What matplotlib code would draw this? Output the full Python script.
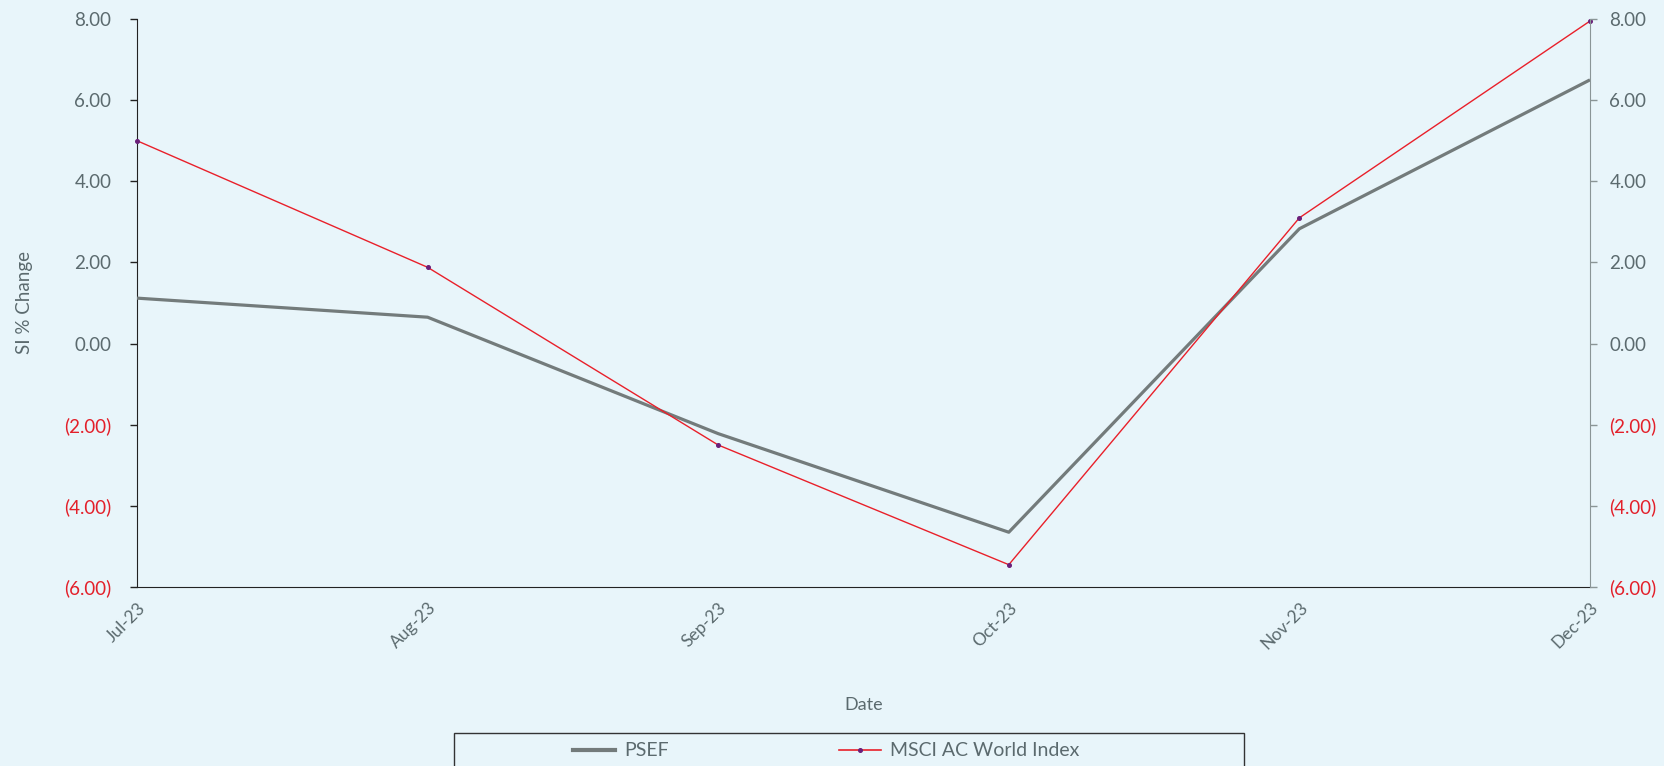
import matplotlib
matplotlib.use("Agg")
import matplotlib.pyplot as plt
from matplotlib.ticker import FuncFormatter, FixedLocator
from matplotlib.patches import Rectangle
from matplotlib.lines import Line2D

plt.rcParams['font.family'] = ['Lato', 'DejaVu Sans']

months = ["Jul-23", "Aug-23", "Sep-23", "Oct-23", "Nov-23", "Dec-23"]
psef = [1.12, 0.65, -2.22, -4.65, 2.83, 6.50]
msci = [5.00, 1.88, -2.50, -5.45, 3.10, 7.95]
y_ticks = [-6, -4, -2, 0, 2, 4, 6, 8]
series_names = ["PSEF", "MSCI AC World Index"]

BG = "#e8f5fa"
GRAY_TXT = "#5b6a6e"
RED = "#e3202a"
PSEF_C = "#737b7b"
MSCI_C = "#e8202a"
MARK_C = "#6a1f7a"

W, H = 1664, 766
fig = plt.figure(figsize=(W / 100, H / 100), dpi=100, facecolor=BG)
ax = fig.add_axes([137 / W, 1 - 587 / H, (1590 - 137) / W, (587 - 19) / H])
ax.set_facecolor(BG)

x = list(range(len(months)))
ax.plot(x, psef, color=PSEF_C, lw=2.3, solid_capstyle='butt', zorder=3)
ax.plot(x, msci, color=MSCI_C, lw=1.0, marker='o', markersize=2.6,
        markerfacecolor=MARK_C, markeredgecolor=MARK_C, zorder=4, clip_on=False)

ax.set_xlim(0, len(months) - 1)
ax.set_ylim(-6, 8)

def fmt(v, pos=None):
    return f"({abs(v):.2f})" if v < 0 else f"{v:.2f}"

ax.yaxis.set_major_locator(FixedLocator(y_ticks))
ax.yaxis.set_major_formatter(FuncFormatter(fmt))
ax.set_xticks(x)
ax.set_xticklabels(months, rotation=45, ha='right', rotation_mode='anchor',
                   color=GRAY_TXT, fontsize=12.5)
ax.tick_params(axis='x', length=0, pad=9)
ax.tick_params(axis='y', direction='out', length=5, width=1, color='#222222',
               labelsize=13.5, pad=13.5)

for sp in ['top', 'right']:
    ax.spines[sp].set_visible(False)
ax.spines['left'].set_color('#222222')
ax.spines['bottom'].set_color('#222222')

ax2 = ax.twinx()
ax2.set_ylim(-6, 8)
ax2.yaxis.set_major_locator(FixedLocator(y_ticks))
ax2.yaxis.set_major_formatter(FuncFormatter(fmt))
ax2.tick_params(axis='y', direction='out', length=5, width=1, color='#8a9596',
                labelsize=13.5, pad=9)
for sp in ['top', 'left', 'bottom']:
    ax2.spines[sp].set_visible(False)
ax2.spines['right'].set_color('#8a9596')

for a in (ax, ax2):
    for v, lab in zip(y_ticks, a.get_yticklabels()):
        lab.set_color(RED if v < 0 else GRAY_TXT)

ax.set_ylabel("SI % Change", color=GRAY_TXT, fontsize=13.5)
ax.yaxis.set_label_coords((33 - 137) / (1590 - 137), 0.5)
ax.set_xlabel("Date", color=GRAY_TXT, fontsize=13)
ax.xaxis.set_label_coords(0.5, -(697 - 587) / (587 - 19))

# legend box (extends past the bottom edge)
rect = Rectangle((454 / W, -0.05), (1244 - 454) / W, 0.05 + (766 - 733) / H,
                 transform=fig.transFigure, fill=False, edgecolor='#333333',
                 lw=1.0, clip_on=False)
fig.patches.append(rect)

handles = [Line2D([], [], color=PSEF_C, lw=3),
           Line2D([], [], color=MSCI_C, lw=1.2, marker='o', markersize=2.6,
                  markerfacecolor=MARK_C, markeredgecolor=MARK_C)]
for h, name, xs in zip(handles, series_names, [563, 829]):
    fig.legend([h], [name], loc='center left',
               bbox_to_anchor=(xs / W, 1 - 751 / H), frameon=False,
               fontsize=14, handlelength=2.15, handletextpad=0.5,
               borderpad=0, labelcolor=GRAY_TXT)

fig.savefig("out.png", dpi=100, facecolor=BG)
